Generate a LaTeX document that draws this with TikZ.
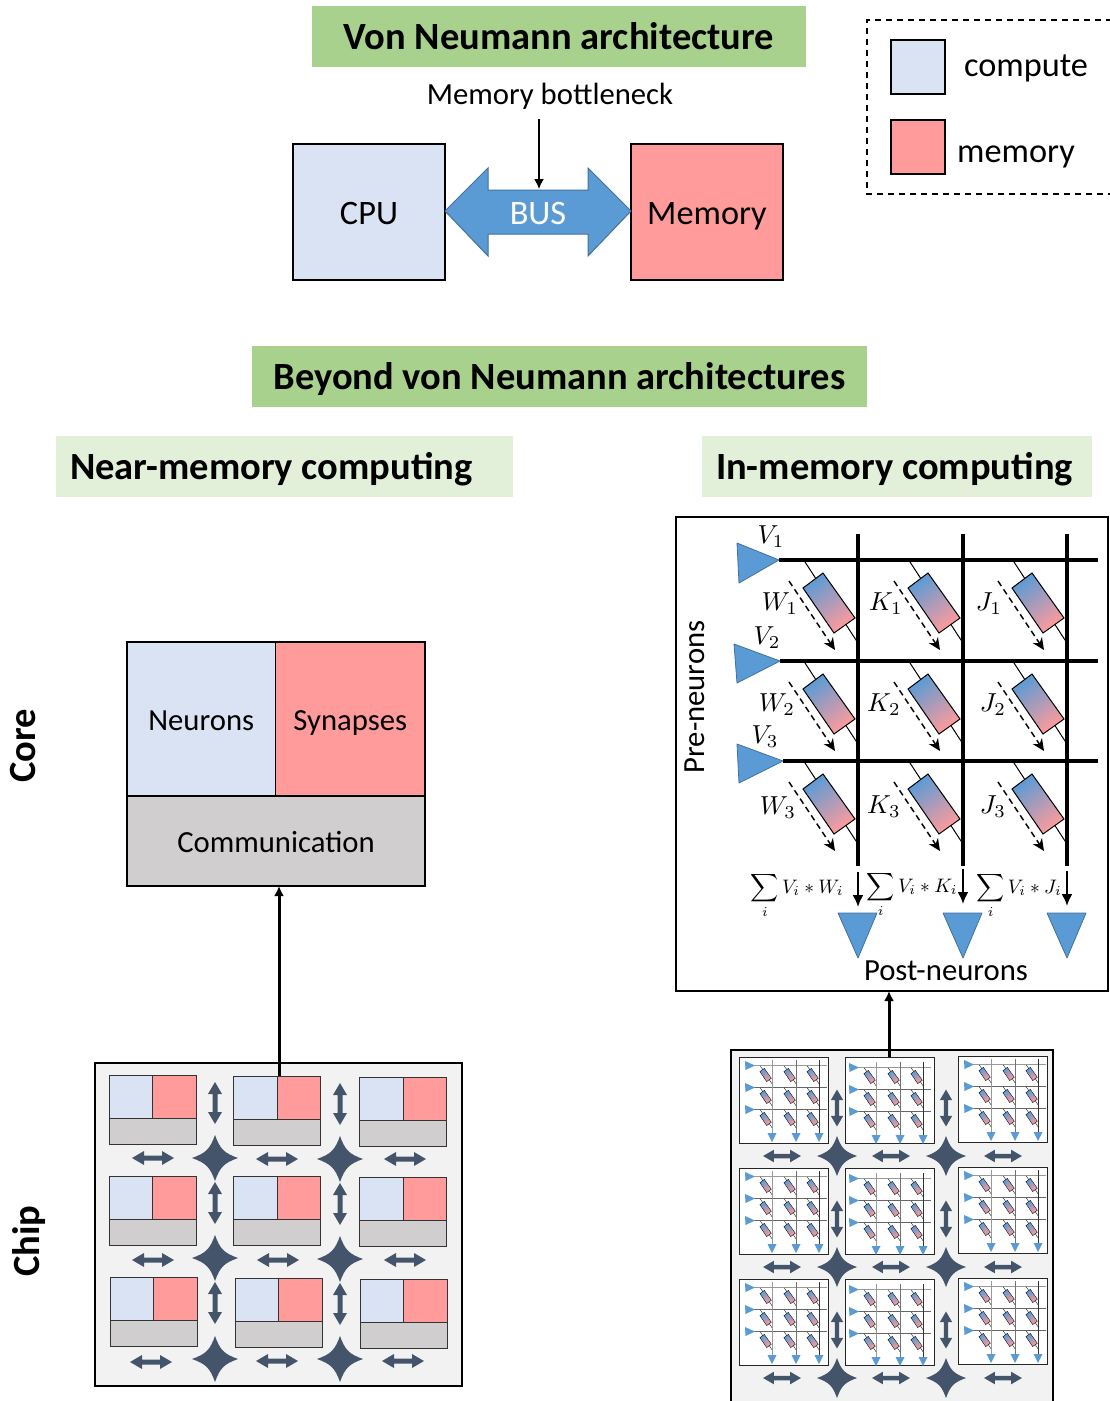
\documentclass[tikz,border=0pt]{standalone}
\usepackage{fontspec}
\setmainfont{Carlito}
\usetikzlibrary{arrows.meta}
\definecolor{computec}{HTML}{DAE3F3}
\definecolor{memoryc}{HTML}{FF9B9B}
\definecolor{commc}{HTML}{D0CECE}
\definecolor{titleg}{HTML}{A9D18E}
\definecolor{subg}{HTML}{E2F0D9}
\definecolor{blueA}{HTML}{5B9BD5}
\definecolor{blueE}{HTML}{41719C}
\definecolor{slateA}{HTML}{44546A}
\newcommand\fs[1]{\fontsize{#1}{#1}\selectfont}
\tikzset{
  bx/.style={draw=black,line width=1.3pt,align=center},
  thinbx/.style={draw=black!80,line width=1pt},
  titlebox/.style={text height=26pt,text depth=0pt,fill=titleg,font=\fs{38.5}\bfseries},
  subbox/.style={text height=26pt,text depth=0pt,fill=subg,font=\fs{38.5}\bfseries},
  body/.style={text height=23pt,text depth=0pt,font=\fs{30.7}},
  large/.style={text height=25pt,text depth=0pt,font=\fs{34.3}},
  lab/.style={text height=21pt,text depth=0pt,inner sep=0,font=\fs{30.7}},
  sidelab/.style={text height=26pt,text depth=0pt,inner sep=0,rotate=90,font=\fs{38.5}\bfseries},
  mathlab/.style={inner sep=0,scale=2.6,transform shape},
  sumlab/.style={inner sep=0,anchor=base,scale=1.95,transform shape},
  neuron/.style={fill=blueA,draw=blueE,line width=.8pt,line join=round},
  slate/.style={fill=slateA,draw=none},
  conn/.style={draw=black,line width=3pt,-{Latex[length=10pt,width=10pt]}},
  bar/.style={draw=black,line width=3.2pt},
  sumarrow/.style={line width=2pt,-{Latex[length=12pt,width=11pt]}},
}
\newcommand\bxn[7]{%
  \pgfmathsetmacro\bxw{(#4)-(#2)}\pgfmathsetmacro\bxh{(#5)-(#3)}%
  \pgfmathsetmacro\bxx{((#2)+(#4))/2}\pgfmathsetmacro\bxy{((#3)+(#5))/2}%
  \node[#6,minimum width=\bxw pt,minimum height=\bxh pt,inner sep=0pt,outer sep=0pt] (#1) at (\bxx,\bxy) {#7};}
% double arrows and stars: x y scale
\newcommand\harrow[3]{\fill[slate,shift={(#1,#2)},scale=#3] (-21,0) -- (-9,-7) -- (-9,-2.5) -- (9,-2.5) -- (9,-7) -- (21,0) -- (9,7) -- (9,2.5) -- (-9,2.5) -- (-9,7) -- cycle;}
\newcommand\varrow[3]{\fill[slate,shift={(#1,#2)},scale=#3] (0,-21) -- (-7,-9) -- (-2.5,-9) -- (-2.5,9) -- (-7,9) -- (0,21) -- (7,9) -- (2.5,9) -- (2.5,-9) -- (7,-9) -- cycle;}
\newcommand\foursstar[3]{\fill[slate,shift={(#1,#2)},scale=#3] (0,-23) .. controls (5,-9) and (9,-5) .. (23,0) .. controls (9,5) and (5,9) .. (0,23) .. controls (-5,9) and (-9,5) .. (-23,0) .. controls (-9,-5) and (-5,-9) .. (0,-23) -- cycle;}
% memristor relative to crossing
\newcommand\memr[3]{%  x y linewidth
  \begin{scope}[shift={(#1)},scale=#2]
  \draw[line width=#3] (-53,2) -- (0,83);
  \shade[top color=blueA,bottom color=memoryc,shading angle=35,draw=black,line width=#3]
     (-35,13) -- (-55,28) -- (-24,73) -- (-3,58) -- cycle;
  \end{scope}}
\newcommand\bigmem[2]{%
  \memr{#1,#2}{1}{1pt}
  \draw[line width=1.5pt,dash pattern=on 6pt off 4pt,-{Stealth[length=12pt,width=11pt]},shift={(#1,#2)}] (-69,21) -- (-23,90);}
% mini crossbar: name x y dx dy
\newcommand\minibar[5]{%
  \bxn{#1}{#2}{#3}{#2+89}{#3+86}{draw=black!85,line width=1pt,fill=white}{}
  \begin{scope}[shift={(#2+#4,#3+#5)}]
    \draw[black!40,line width=1.5pt] (14,8.5) -- (88,8.5);
    \draw[black!60,line width=.8pt] (14,30.5) -- (88,30.5) (14,52.5) -- (88,52.5);
    \draw[black!40,line width=1pt] (33,3) -- (33,76);
    \draw[black!55,line width=.9pt] (57,3) -- (57,76);
    \draw[black!80,line width=.8pt] (80,3) -- (80,76);
    \foreach \yy in {8.5,30.5,52.5}{
      \fill[blueA] (6,\yy-4.5) -- (6.5,\yy+4.5) -- (16,\yy) -- cycle;
      \foreach \xx in {33,57,80}{\memr{\xx,\yy}{.22}{.35pt}}
    }
    \foreach \xx in {33,57,80}{\fill[blueA] (\xx-4.5,76) -- (\xx+4.5,76) -- (\xx,85) -- cycle;}
  \end{scope}}
\newcommand\minicore[3]{%  name x y
  \bxn{#1a}{#2}{#3}{#2+43.5}{#3+43}{thinbx,fill=computec}{}
  \bxn{#1b}{#2+43.5}{#3}{#2+87}{#3+43}{thinbx,fill=memoryc}{}
  \bxn{#1c}{#2}{#3+43}{#2+87}{#3+69}{thinbx,fill=commc}{}}
\begin{document}
\begin{tikzpicture}[x=1pt,y=-1pt]
\useasboundingbox (0,0) rectangle (1110,1401);
\clip (0,0) rectangle (1110,1401);
\fill[white] (0,0) rectangle (1110,1401);
% Titles
\bxn{tvn}{312}{6}{806}{67}{titlebox}{Von Neumann architecture}
\bxn{tbvn}{252}{346}{867}{407}{titlebox}{Beyond von Neumann architectures}
\bxn{tnear}{56}{436}{513}{497}{subbox}{\makebox[457pt][l]{\hspace{14pt}Near-memory computing}}
\bxn{tin}{702}{436}{1092}{497}{subbox}{\makebox[390pt][l]{\hspace{14pt}In-memory computing}}
% Von Neumann
\bxn{cpu}{293}{144}{445}{280}{bx,fill=computec,large}{CPU}
\bxn{mem}{631}{144}{783}{280}{bx,fill=memoryc,large}{Memory}
\draw[fill=blueA,draw=blueE,line width=1pt,line join=miter] (cpu.east) ++(0,-1) -- (488,168) -- (488,190) -- (588,190) -- (588,168) -- (631,211) -- (588,256) -- (588,234) -- (488,234) -- (488,256) -- cycle;
\node[lab,large,text=white] (bus) at (538,212) {BUS};
\node[lab] (bneck) at (550,94) {Memory bottleneck};
\coordinate (bstart) at (539,119);
\coordinate (bend) at (539,189);
\draw[draw=black,line width=1.5pt,-{Latex[length=10pt,width=10pt]}] (bstart) -- (bend);
% Legend
\draw[black,line width=1.2pt,dash pattern=on 6pt off 5pt] (1112,20) -- (867,20) -- (867,194) -- (1112,194);
\bxn{lc}{891}{40}{945}{94}{bx,fill=computec}{}
\bxn{lm}{891}{120}{945}{174}{bx,fill=memoryc}{}
\node[lab,large] (lct) at (1026,64) {compute};
\node[lab,large] (lmt) at (1016,150) {memory};
% Side labels
\node[sidelab] (scx) at (22.5,746) {Core};
\node[sidelab] (sch) at (26,1241) {Chip};
% Core
\bxn{neu}{127}{642}{275.5}{796}{bx,fill=computec,body}{Neurons}
\bxn{syn}{275.5}{642}{425}{796}{bx,fill=memoryc,body}{Synapses}
\bxn{com}{127}{796}{425}{886}{bx,fill=commc,body}{Communication}
% Chip left
\bxn{chipL}{95}{1063}{462}{1386}{bx,fill=black!5}{}
\minicore{ca}{109}{1075.5}\minicore{cb}{233.5}{1076.5}\minicore{cc}{359.5}{1077}
\minicore{cd}{109}{1176}\minicore{ce}{233.5}{1176.5}\minicore{cf}{359.5}{1177}
\minicore{cg}{110}{1277}\minicore{ch}{235}{1278}\minicore{ci}{360}{1279}
\varrow{215}{1103}{1}\varrow{340}{1104}{1}
\varrow{215}{1203}{1}\varrow{340}{1204}{1}
\varrow{215}{1303}{1}\varrow{340}{1304}{1}
\harrow{153}{1158}{1}\harrow{277}{1159}{1}\harrow{405}{1159}{1}
\harrow{153}{1260}{1}\harrow{278}{1260}{1}\harrow{405}{1260}{1}
\harrow{151}{1362}{1}\harrow{277}{1361}{1}\harrow{403}{1361}{1}
\foursstar{215}{1158}{1}\foursstar{340}{1159}{1}
\foursstar{215}{1258}{1}\foursstar{340}{1259}{1}
\foursstar{215}{1359}{1}\foursstar{340}{1359}{1}
\coordinate (linkL) at (279,1076);
\draw[conn] (linkL) -- (linkL |- com.south);
% Crossbar
\bxn{xbar}{676}{517}{1108}{991}{bx,fill=white}{}
\draw[bar] (779,560) -- (1098,560) (780,661) -- (1098,661) (783,761) -- (1098,761);
\draw[bar] (858,534) -- (858,866) (963,534) -- (963,866) (1067,534) -- (1067,866);
\draw[neuron] (737,543) -- (739,583) -- (779,560) -- cycle;
\draw[neuron] (734,644) -- (737,683) -- (780,661) -- cycle;
\draw[neuron] (737,744) -- (739,783) -- (783,761) -- cycle;
\foreach \cx in {858,963,1067}{\foreach \cy in {560,661,761}{\bigmem{\cx}{\cy}}
  \draw[neuron] (\cx-20,913) -- (\cx+19,913) -- (\cx,958) -- cycle;}
\draw[sumarrow] (858,872) -- (858,907);
\draw[sumarrow] (963,869) -- (963,904);
\draw[sumarrow] (1067,871) -- (1067,906);
\node[mathlab] (v1) at (771,537) {$V_1$};
\node[mathlab] (v2) at (767,638) {$V_2$};
\node[mathlab] (v3) at (765,737) {$V_3$};
\node[mathlab] (w1) at (780,604) {$W_1$};
\node[mathlab] (k1) at (886,604) {$K_1$};
\node[mathlab] (j1) at (989,604) {$J_1$};
\node[mathlab] (w2) at (777,705) {$W_2$};
\node[mathlab] (k2) at (884,705) {$K_2$};
\node[mathlab] (j2) at (993,705) {$J_2$};
\node[mathlab] (w3) at (778,808) {$W_3$};
\node[mathlab] (k3) at (884,807) {$K_3$};
\node[mathlab] (j3) at (993,807) {$J_3$};
\node[sumlab] (s1) at (797,893) {$\displaystyle\sum_i V_i*W_i$};
\node[sumlab] (s2) at (912,892) {$\displaystyle\sum_i V_i*K_i$};
\node[sumlab] (s3) at (1019,893) {$\displaystyle\sum_i V_i*J_i$};
\node[lab] (pre) at (694,697) [rotate=90] {Pre-neurons};
\node[lab] (post) at (946,970) {Post-neurons};
% Chip right
\bxn{chipR}{731}{1050}{1053}{1410}{bx,fill=black!5}{}
\minibar{ma}{739}{1057}{0}{0}\minibar{mb}{845}{1057}{-2}{2}\minibar{mc}{958}{1056}{0}{0}
\minibar{md}{739}{1168}{0}{0}\minibar{me}{845}{1168}{-2}{2}\minibar{mf}{958}{1167}{0}{0}
\minibar{mg}{739}{1279}{0}{0}\minibar{mh}{845}{1279}{-2}{2}\minibar{mi}{958}{1278}{0}{0}
\foreach \yy in {1108,1219,1330}{\varrow{837}{\yy}{.88}\varrow{946}{\yy}{.88}}
\foreach \yy in {1156,1267,1378}{
  \harrow{782}{\yy}{.9}\harrow{891}{\yy}{.9}\harrow{1003}{\yy}{.9}
  \foursstar{837}{\yy}{.87}\foursstar{946}{\yy}{.87}}
\coordinate (linkR) at (889,1057);
\draw[conn] (linkR) -- (linkR |- xbar.south);
\end{tikzpicture}
\end{document}
